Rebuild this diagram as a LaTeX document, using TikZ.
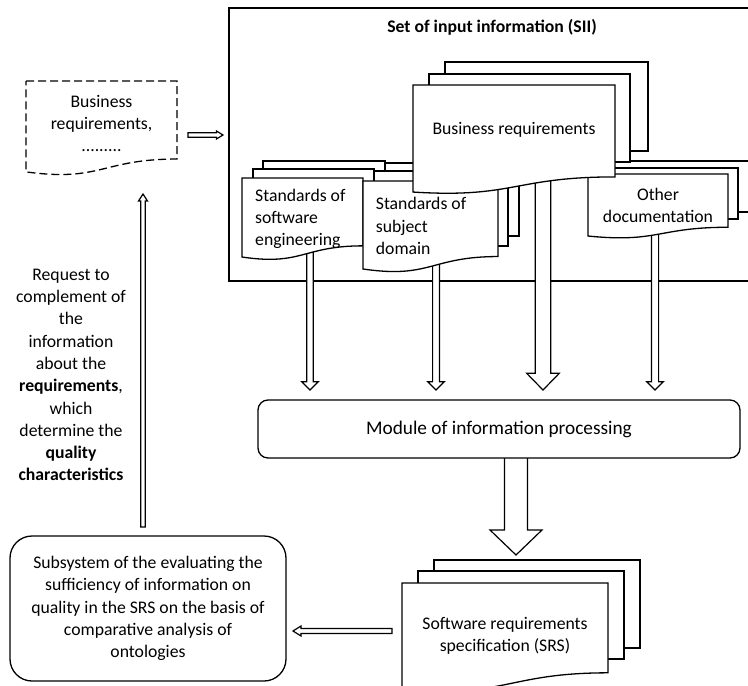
\documentclass[tikz,border=0pt]{standalone}
\usepackage{fontspec}
\setmainfont{Carlito}
\usetikzlibrary{calc}
\newcommand\bodyfont{\fontsize{17.7}{22.3}\selectfont}
\newcommand\modfont{\fontsize{19.3}{23}\selectfont}
% hollow (double-line) arrow from #1 to tip #2; #3 shaft half width, #4 head half width, #5 head length
\newcommand\hollowarrow[5]{%
  \coordinate (hb) at ($(#2)!#5!(#1)$);
  \draw[hollow] ($(#1)!#3!90:(#2)$) -- ($(hb)!#3!90:(#2)$) -- ($(hb)!#4!90:(#2)$) -- (#2)
     -- ($(hb)!#4!-90:(#2)$) -- ($(hb)!#3!-90:(#2)$) -- ($(#1)!#3!-90:(#2)$) -- cycle;}
% document shape: x, y (top left), w, h ; depth of the wave in \docdip
\def\docdip{1.04}
\newcommand\docshape[5][]{%
  \draw[sheet,#1] (#2,#3) -- ++(#4,0) -- ++(0,{0.802*#5})
    .. controls ({#2+#4/2},{#3+0.802*#5}) and ({#2+#4/2},{#3+\docdip*#5}) .. ({#2},{#3+0.934*#5}) -- cycle;}
\begin{document}
\begin{tikzpicture}[x=1pt,y=-1pt]
\tikzset{
  sheet/.style={draw=black, fill=white, line width=1.3pt, line join=miter},
  hollow/.style={draw=black, fill=white, line width=1.2pt, line join=miter},
  txt/.style={inner sep=0pt, align=center, font=\bodyfont},
  box/.style={draw=black, fill=white, line width=1.3pt, inner sep=0pt, align=center, font=\bodyfont},
}
\useasboundingbox (0,0) rectangle (748,686);
\clip (0,0) rectangle (748,686);

% set of input information frame
\draw[sheet] (229,8) rectangle (770,281);
\node[txt, font=\bodyfont\bfseries] (sii) at (492,27) {Set of input information (SII)};

% arrows from the documents to the module
\coordinate (a1s) at (310,240); \coordinate (a1e) at (310,390);
\coordinate (a2s) at (436,250); \coordinate (a2e) at (436,390);
\coordinate (a3s) at (543,170); \coordinate (a3e) at (543,390);
\coordinate (a4s) at (655,220); \coordinate (a4e) at (655,390);
\hollowarrow{a1s}{a1e}{3.2pt}{8.3pt}{8.3pt}
\hollowarrow{a2s}{a2e}{3.4pt}{8.3pt}{8.3pt}
\hollowarrow{a3s}{a3e}{7.8pt}{16.3pt}{16.7pt}
\hollowarrow{a4s}{a4e}{3.6pt}{8.3pt}{8.3pt}

% standards of software engineering
\draw[sheet] (263,161) rectangle (385,235);
\draw[sheet] (253,169) rectangle (374,240);
\docshape{242}{178}{121}{84.6}
\node[txt, anchor=west, align=left] (se) at (255,219) {Standards of\\software\\engineering};

% standards of subject domain
\draw[sheet] (385,163) rectangle (519,236);
\draw[sheet] (374,171) rectangle (508,246);
\docshape{363}{181}{135}{94.2}

% other documentation
\draw[sheet] (608,161) rectangle (770,212);
\draw[sheet] (598,168) rectangle (738,219);
\docshape{588}{174}{140}{66.4}
\node[txt] (od) at (658,205.7) {Other\\documentation};

% business requirements
\draw[sheet] (445,62) rectangle (648,151);
\draw[sheet] (429,74) rectangle (630,162);
{\def\docdip{0.99}\docshape{413}{85}{202}{114.6}}
\node[txt] (br) at (514,130) {Business requirements};
\node[txt, anchor=west, align=left] (sd) at (375.7,226) {Standards of\\subject\\domain};

% module of information processing
\coordinate (a5s) at (516,450); \coordinate (a5e) at (516,555);
\hollowarrow{a5s}{a5e}{11.5pt}{26pt}{25pt}
\node[box, font=\modfont, rounded corners=10pt, minimum width=482pt, minimum height=58pt] (mod) at (499,429) {Module of information processing};

% software requirements specification
\draw[sheet] (434,560) rectangle (640,648);
\draw[sheet] (418,571) rectangle (624,659);
\docshape{402}{583}{206}{112}
\node[txt] (srs) at (505,636) {Software requirements\\specification (SRS)};

% subsystem
\node[box, rounded corners=22pt, minimum width=276pt, minimum height=145pt] (sub) at (148,608.5)
  {Subsystem of the evaluating the\\sufficiency of information on\\quality in the SRS on the basis of\\comparative analysis of\\ontologies};
\coordinate (a6s) at (392,631); \coordinate (a6e) at (293,631);
\hollowarrow{a6s}{a6e}{2.5pt}{5pt}{8pt}

% request arrow
\coordinate (a7s) at (143,527); \coordinate (a7e) at (143,194);
\hollowarrow{a7s}{a7e}{2.3pt}{4.5pt}{7pt}
\node[txt] (req) at (71,375) {Request to\\complement of\\the\\information\\about the\\\textbf{requirements},\\which\\determine the\\\textbf{quality}\\\textbf{characteristics}};

% business requirements (dashed)
\docshape[dash pattern=on 8pt off 4pt]{26}{81}{151}{97.3}
\node[txt] (biz) at (101.5,123.5) {Business\\requirements,\\.........};
\coordinate (a8s) at (188,135); \coordinate (a8e) at (223,135);
\hollowarrow{a8s}{a8e}{2.2pt}{4pt}{6.5pt}
\end{tikzpicture}
\end{document}
